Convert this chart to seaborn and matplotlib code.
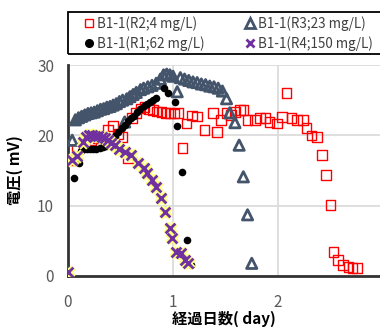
import matplotlib
matplotlib.use("Agg")
import matplotlib.pyplot as plt
import seaborn as sns
import pandas as pd
from matplotlib.lines import Line2D
from matplotlib.patches import Rectangle

sns.set_theme(style="white")
plt.rcParams['font.family'] = ['Noto Sans CJK JP', 'DejaVu Sans']

labels = ["B1-1(R2;4 mg/L)", "B1-1(R3;23 mg/L)", "B1-1(R1;62 mg/L)", "B1-1(R4;150 mg/L)"]

r2_x = [0.02, 0.08, 0.15, 0.22, 0.28, 0.33, 0.38, 0.43, 0.48, 0.52, 0.57, 0.61, 0.65, 0.69, 0.73, 0.77,
        0.81, 0.85, 0.89, 0.93, 0.97, 1.01, 1.05, 1.09, 1.13, 1.18, 1.23, 1.30, 1.38, 1.42, 1.46, 1.51,
        1.55, 1.59, 1.64, 1.67, 1.71, 1.78, 1.83, 1.88, 1.92, 1.99, 2.04, 2.08, 2.13, 2.18, 2.24, 2.27,
        2.32, 2.37, 2.42, 2.46, 2.50, 2.53, 2.57, 2.62, 2.67, 2.71, 2.75]
r2_y = [16.5, 18.0, 18.8, 19.3, 19.6, 19.8, 20.8, 21.3, 20.2, 19.8, 16.8, 22.5, 23.2, 23.8, 24.0, 23.7,
        23.6, 23.4, 23.3, 23.2, 23.2, 23.1, 23.2, 18.2, 21.7, 22.8, 22.7, 20.8, 23.2, 20.5, 22.2, 23.2,
        22.9, 23.3, 23.6, 23.6, 22.2, 22.2, 22.5, 22.5, 21.9, 21.7, 22.6, 26.0, 22.5, 22.2, 22.2, 21.0,
        20.0, 19.8, 17.2, 14.4, 10.1, 3.4, 2.3, 1.6, 1.3, 1.1, 1.1]

r3_x = [0.0, 0.04, 0.07, 0.10, 0.13, 0.16, 0.19, 0.22, 0.25, 0.28, 0.31, 0.34, 0.37, 0.40, 0.43, 0.46,
        0.49, 0.52, 0.54, 0.56, 0.59, 0.62, 0.65, 0.69, 0.72, 0.76, 0.80, 0.84, 0.88, 0.91, 0.94, 0.97,
        1.00, 1.04, 1.07, 1.11, 1.15, 1.19, 1.23, 1.27, 1.31, 1.35, 1.39, 1.43, 1.47, 1.51, 1.54, 1.59,
        1.63, 1.67, 1.71, 1.75]
r3_y = [0.5, 19.3, 22.2, 22.5, 22.7, 22.9, 23.1, 23.2, 23.3, 23.5, 23.7, 23.8, 24.0, 24.1, 24.3, 24.5,
        24.8, 25.0, 21.9, 25.2, 25.5, 25.8, 26.1, 26.5, 26.7, 26.9, 27.1, 27.4, 28.0, 28.6, 28.7, 28.6,
        28.4, 26.2, 28.2, 28.0, 27.8, 27.6, 27.5, 27.3, 27.2, 27.0, 26.9, 26.7, 26.3, 25.2, 23.2, 21.8,
        18.6, 14.1, 8.7, 1.8]

r1_x = [0.0, 0.06, 0.10, 0.12, 0.15, 0.18, 0.21, 0.24, 0.27, 0.30, 0.33, 0.36, 0.39, 0.42, 0.45, 0.48,
        0.51, 0.54, 0.57, 0.60, 0.63, 0.66, 0.69, 0.72, 0.75, 0.78, 0.81, 0.84, 0.91, 0.95, 1.02, 1.04,
        1.09, 1.13, 1.17]
r1_y = [0.5, 13.9, 16.0, 17.8, 18.0, 18.0, 18.0, 18.1, 18.1, 18.2, 18.3, 18.5, 18.8, 19.3, 19.9, 20.5,
        21.0, 21.5, 22.0, 22.4, 22.8, 23.3, 23.7, 24.1, 24.4, 24.7, 25.0, 25.3, 26.7, 26.0, 24.8, 21.3,
        14.8, 5.1, 1.6]

r4_x = [0.0, 0.04, 0.09, 0.14, 0.17, 0.20, 0.23, 0.26, 0.29, 0.32, 0.35, 0.38, 0.41, 0.45, 0.49, 0.54,
        0.60, 0.67, 0.72, 0.75, 0.80, 0.84, 0.89, 0.92, 0.97, 0.99, 1.03, 1.08, 1.11, 1.14]
r4_y = [0.5, 16.5, 17.0, 19.1, 19.8, 20.0, 20.0, 19.9, 19.9, 19.8, 19.6, 19.3, 18.9, 18.6, 18.1, 17.7,
        17.2, 16.1, 15.3, 14.6, 13.7, 12.7, 11.1, 9.1, 6.8, 5.4, 3.4, 3.2, 2.3, 1.8]

x_ticks = [0, 1, 2]
y_ticks = [0, 10, 20, 30]

W, H = 380, 331
fig = plt.figure(figsize=(W/100, H/100), dpi=100)
ax = fig.add_axes([68/W, 55/H, 1 - 68/W, (276-65)/H])

df2 = pd.DataFrame({"x": r2_x, "y": r2_y})
df3 = pd.DataFrame({"x": r3_x, "y": r3_y})
df1 = pd.DataFrame({"x": r1_x, "y": r1_y})
df4 = pd.DataFrame({"x": r4_x, "y": r4_y})

sns.scatterplot(data=df2, x="x", y="y", ax=ax, marker="s", s=48, facecolor="none",
                edgecolor="#FF0000", linewidth=1.0, zorder=3)
sns.scatterplot(data=df3, x="x", y="y", ax=ax, marker="^", s=55, facecolor="none",
                edgecolor="#44546A", linewidth=2.0, zorder=4)
sns.scatterplot(data=df1, x="x", y="y", ax=ax, marker="o", s=30, color="black",
                edgecolor="black", linewidth=0, zorder=5)
sns.scatterplot(data=df4, x="x", y="y", ax=ax, marker="x", s=50, color="#FFFF80",
                linewidth=4.5, zorder=6)
sns.scatterplot(data=df4, x="x", y="y", ax=ax, marker="x", s=50, color="#7030A0",
                linewidth=2.0, zorder=7)

ax.set_xlim(0, (380-68)/105)
ax.set_ylim(0, 30)
ax.set_xticks(x_ticks)
ax.set_yticks(y_ticks)
ax.grid(True, color="#D9D9D9", linewidth=1.2)
ax.set_axisbelow(True)
for s in ["top", "right"]:
    ax.spines[s].set_visible(False)
for s in ["left", "bottom"]:
    ax.spines[s].set_color("#333333")
    ax.spines[s].set_linewidth(2.0)
ax.tick_params(axis="both", length=0, labelsize=11, labelcolor="#595959")
ax.tick_params(axis="x", pad=13)
ax.tick_params(axis="y", pad=10)
ax.set_xlabel("経過日数( day)", fontsize=11, fontweight="bold", color="black", labelpad=0)
ax.set_ylabel("電圧( mV)", fontsize=11, fontweight="bold", color="black", labelpad=10)

h2 = Line2D([], [], marker="s", linestyle="none", markerfacecolor="none", markeredgecolor="#FF0000", markersize=6, markeredgewidth=1.0)
h3 = Line2D([], [], marker="^", linestyle="none", markerfacecolor="none", markeredgecolor="#44546A", markersize=7, markeredgewidth=2.0)
h1 = Line2D([], [], marker="o", linestyle="none", color="black", markersize=5.5)
h4 = Line2D([], [], marker="x", linestyle="none", color="#7030A0", markersize=6, markeredgewidth=2.0)
leg = fig.legend([h2, h1, h3, h4], [labels[0], labels[2], labels[1], labels[3]], ncol=2,
                 loc="upper left", bbox_to_anchor=(83.5/W, 1 - 16/H), frameon=False,
                 fontsize=9.7, handlelength=0.8, handletextpad=0.2, columnspacing=3.0,
                 borderpad=0, labelspacing=0.4, borderaxespad=0)
for t in leg.get_texts():
    t.set_color("#404040")

fig.patches.append(Rectangle((68/W, 1 - 54/H), (390-68)/W, 42/H, transform=fig.transFigure,
                             facecolor="none", edgecolor="black", linewidth=1.3))

fig.savefig("out.png", dpi=100)
